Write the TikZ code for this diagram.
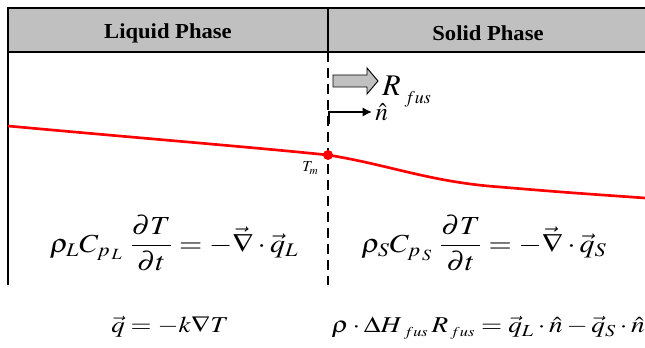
\documentclass[tikz,border=0pt]{standalone}
\usepackage{amsmath}
\usepackage{mathptmx}
\usepackage{fontspec}
\setmainfont{Liberation Serif}
\usetikzlibrary{arrows.meta}
\definecolor{hdrgray}{RGB}{192,192,192}
\newcommand{\hsc}[2]{\scalebox{#1}[1]{#2}}
\begin{document}
\begin{tikzpicture}[x=0.75pt,y=-0.75pt,
  border/.style={line width=1.5pt},
  hdrtext/.style={font=\fontsize{16}{18}\selectfont\bfseries,inner sep=0pt},
  eqtop/.style={font=\fontsize{19.5}{22}\selectfont,inner sep=0pt},
  eqbot/.style={font=\fontsize{17}{20}\selectfont,inner sep=0pt},
  redcurve/.style={red,line width=2pt}]
\useasboundingbox (0,0) rectangle (645,348);
% header
\fill[hdrgray] (8,8) rectangle (645,52);
\draw[border] (645,8) -- (8,8) -- (8,285);
\draw[border] (8,52) -- (645,52);
\coordinate (divtop) at (328,8);
\coordinate (divmid) at (328,52);
\coordinate (divbot) at (328,285);
\draw[border] (divtop) -- (divmid);
\draw[border,dash pattern=on 7.5pt off 4.5pt] (divmid) -- (divbot);
\node[hdrtext] (liq) at (168,33) {\hsc{1.06}{Liquid Phase}};
\node[hdrtext] (sol) at (488,33) {\hsc{1.06}{Solid Phase}};
% temperature profile
\coordinate (p0) at (8,126);
\node[circle,fill=red,inner sep=0pt,minimum size=7.5pt] (tm) at (328,155) {};
\coordinate (p2) at (500,187);
\coordinate (p3) at (645,198);
\draw[redcurve] (p0) .. controls (150,139) and (250,147) .. (tm.center)
  .. controls (390,165) and (430,182) .. (p2)
  .. controls (560,192) .. (p3);
\node[font=\fontsize{11.5}{12}\selectfont,inner sep=0pt,anchor=base west] (tml) at (302,172) {$T_{m}$};
% R_fus arrow
\coordinate (a1) at (333,75);
\coordinate (a2) at (367,75);
\coordinate (a3) at (367,68);
\coordinate (atip) at (378,81);
\coordinate (a5) at (367,94);
\coordinate (a6) at (367,87);
\coordinate (a7) at (333,87);
\draw[fill=hdrgray,line width=0.7pt,line join=miter] (a1) -- (a2) -- (a3) -- (atip) -- (a5) -- (a6) -- (a7) -- cycle;
\node[inner sep=0pt,anchor=base west] (rfus) at (382,96) {\fontsize{22.5}{24}\selectfont$R$\hspace{3pt}\raisebox{-6pt}{\fontsize{13.5}{14}\selectfont$fus$}};
% n hat
\coordinate (nstart) at (329,124);
\coordinate (nend) at (372,112);
\draw[line width=1.4pt,-{Latex[length=7pt,width=7pt]}] (nstart) |- (nend);
\node[font=\fontsize{19}{20}\selectfont,inner sep=0pt,anchor=base west] (nhat) at (375,121) {$\hat{n}$};
% equations
\node[eqtop] (eqL) at (174,243) {\hsc{1.15}{$\rho_{L}C_{p_{\,L}}\;\dfrac{\partial T}{\partial t}=-\vec{\nabla}\cdot\vec{q}_{L}$}};
\node[eqtop] (eqS) at (484,243) {\hsc{1.15}{$\rho_{S}C_{p_{\,S}}\;\dfrac{\partial T}{\partial t}=-\vec{\nabla}\cdot\vec{q}_{S}$}};
\node[eqbot,anchor=base] (eqq) at (170,333) {\hsc{1.19}{$\vec{q}=-k\nabla T$}};
\node[eqbot,anchor=base east] (eqI) at (645,333) {\hsc{1.2}{$\rho\cdot\Delta H_{\;\scriptscriptstyle fus}\,R_{\,\scriptscriptstyle fus}=\vec{q}_{L}\cdot\hat{n}-\vec{q}_{S}\cdot\hat{n}$}};
\end{tikzpicture}
\end{document}
